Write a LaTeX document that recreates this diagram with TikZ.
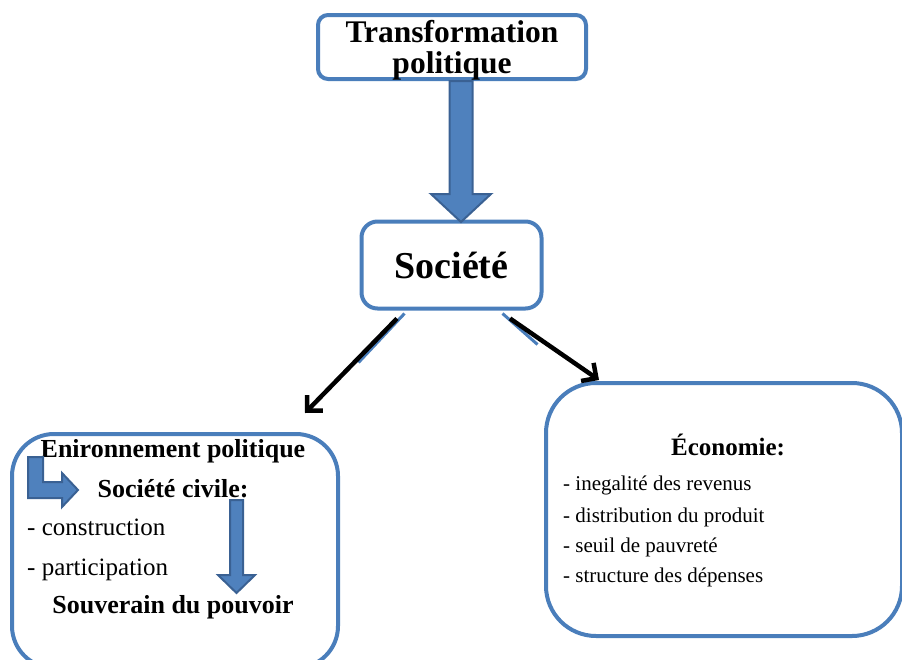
\documentclass[tikz,border=0pt]{standalone}
\usepackage{fontspec}
\setmainfont{Liberation Serif}
\usetikzlibrary{arrows.meta, calc}

\definecolor{boxblue}{HTML}{4A7EBB}
\definecolor{arrowfill}{HTML}{4F81BD}
\definecolor{arrowline}{HTML}{3A6193}

\begin{document}
\begin{tikzpicture}[x=1pt, y=-1pt,
  bluebox/.style = {draw=boxblue, line width=4pt, fill=white, inner sep=0pt},
  blockarrow/.style = {fill=arrowfill, draw=arrowline, line width=2pt, line join=miter},
  link/.style = {line width=4.5pt, -{Straight Barb[length=11pt, width=22pt]}},
  linkshade/.style = {draw=boxblue, line width=3pt},
  bigtext/.style = {inner sep=0pt, font=\fontsize{26}{26}\selectfont\bfseries},
  plaintext/.style = {inner sep=0pt, anchor=base west, font=\fontsize{25}{25}\selectfont},
  itemtext/.style = {inner sep=0pt, anchor=base west, font=\fontsize{21}{21}\selectfont}]
\useasboundingbox (0,0) rectangle (902,659);
\clip (0,0) rectangle (902,659);

% boxes
\node[bluebox, rounded corners=10pt, minimum width=268pt, minimum height=64pt, align=center, text depth=0pt,
      font=\fontsize{31.5}{31.5}\selectfont\bfseries] (trans) at (452,47) {Transformation\\politique};
\node[bluebox, rounded corners=16pt, minimum width=180pt, minimum height=87pt,
      font=\fontsize{38}{38}\selectfont\bfseries] (soc) at (451.5,265) {Société};
\node[bluebox, rounded corners=42pt, minimum width=326pt, minimum height=234pt] (civ) at (175,551) {};
\node[bluebox, rounded corners=50pt, minimum width=356pt, minimum height=253pt] (eco) at (724,509.5) {};

% big arrow
\draw[blockarrow] ($(trans.south)+(9,0)$) ++(-11.5,0) -- ++(23,0) -- ++(0,113) -- ++(18.5,0)
  -- ++(-30,28) -- ++(-30,-28) -- ++(18.5,0) -- cycle;

% links from Société
\draw[linkshade] ($(soc.south)+(-47,3)$) -- ($(soc.south)+(-93,52)$);
\draw[linkshade] ($(soc.south)+(51,3)$) -- ($(soc.south)+(86,34)$);
\draw[link] ($(soc.south)+(-54.5,8)$) -- ($(civ.north)+(130,-19)$);
\draw[link] ($(soc.south)+(58.5,8)$) -- ($(eco.north)+(-125,-1)$);

% left box
\node[bigtext, anchor=base] (env) at (173,457) {Enironnement politique};
\node[bigtext, anchor=base] (civil) at (173,497) {Société civile:};
\node[plaintext] (cons) at (27,535) {- construction};
\node[plaintext] (part) at (27,575) {- participation};
\node[bigtext, anchor=base] (sov) at (173,613) {Souverain du pouvoir};

\coordinate (bendtop) at ($(env.base)+(-137.5,0)$);
\coordinate (downtop) at ($(civil.base)+(63.5,3)$);
\draw[blockarrow] (bendtop) ++(-7.5,0) -- ++(15,0) -- ++(0,25) -- ++(19,0) -- ++(0,-9)
  -- ++(16,17) -- ++(-16,17) -- ++(0,-9) -- ++(-34,0) -- cycle;
\draw[blockarrow] (downtop) ++(-6.5,0) -- ++(13,0) -- ++(0,75) -- ++(12,0)
  -- ++(-18.5,18) -- ++(-18.5,-18) -- ++(12,0) -- cycle;

% right box
\node[bigtext, anchor=base, font=\fontsize{25}{25}\selectfont\bfseries] (ecot) at (728,455) {Économie:};
\node[itemtext] (ineg) at (563,490) {- inegalité des revenus};
\node[itemtext] (dist) at (563,522) {- distribution du produit};
\node[itemtext] (seuil) at (563,552) {- seuil de pauvreté};
\node[itemtext] (struc) at (563,582) {- structure des dépenses};
\end{tikzpicture}
\end{document}
